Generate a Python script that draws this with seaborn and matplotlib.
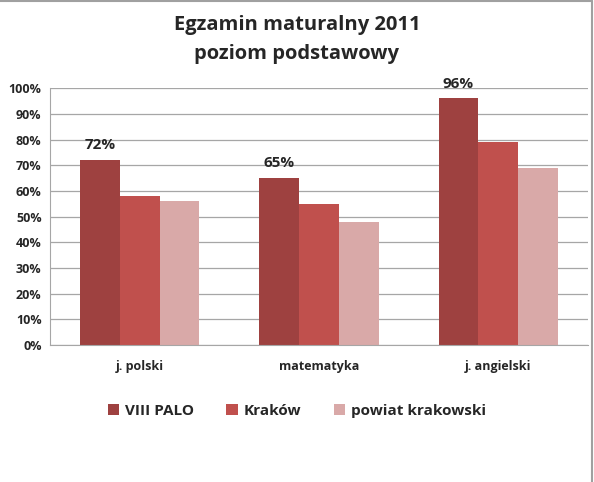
import pandas as pd
import matplotlib.pyplot as plt
import seaborn as sns
from matplotlib.patches import Patch
from matplotlib.lines import Line2D

subjects = ['j. polski', 'matematyka', 'j. angielski']
groups = ['VIII PALO', 'Kraków', 'powiat krakowski']
palo = [72, 65, 96]
krakow = [58, 55, 79]
powiat = [56, 48, 69]
colors = ['#9E4140', '#C0504D', '#D9A9A8']

df = pd.DataFrame({
    'subject': subjects * 3,
    'group': [groups[0]] * 3 + [groups[1]] * 3 + [groups[2]] * 3,
    'value': palo + krakow + powiat,
})

sns.set_style('white')
plt.rcParams['font.family'] = ['Open Sans', 'DejaVu Sans']

fig = plt.figure(figsize=(5.94, 4.82), dpi=100)
ax = fig.add_axes([0.084, 0.284, 0.906, 0.533])
sns.barplot(data=df, x='subject', y='value', hue='group', palette=colors,
            width=0.667, saturation=1, linewidth=0, edgecolor='none', ax=ax, legend=False)

ax.set_ylim(0, 100)
ax.set_yticks(range(0, 101, 10))
ax.set_yticklabels([f'{v}%' for v in range(0, 101, 10)], fontsize=9, fontweight='bold')
ax.tick_params(axis='x', labelsize=9, pad=11)
for lab in ax.get_xticklabels():
    lab.set_fontweight('bold')
ax.set_xlabel('')
ax.set_ylabel('')
ax.yaxis.grid(True, color='#A6A6A6', linewidth=0.9)
ax.set_axisbelow(True)
for s in ['top', 'right']:
    ax.spines[s].set_visible(False)
for s in ['left', 'bottom']:
    ax.spines[s].set_color('#A6A6A6')
ax.tick_params(axis='y', length=0, pad=6)
ax.tick_params(axis='x', length=0)

# value labels for VIII PALO bars
for p, v in zip(ax.containers[0], palo):
    ax.text(p.get_x() + p.get_width() / 2, v + 3, f'{v}%', ha='center', va='bottom',
            fontsize=11, fontweight='bold', clip_on=False)

fig.text(0.5, 0.968, 'Egzamin maturalny 2011\npoziom podstawowy', ha='center', va='top',
         fontsize=14.5, fontweight='bold', linespacing=1.55)

handles = [Patch(facecolor=c, edgecolor='none') for c in colors]
fig.legend(handles, groups, loc='center', bbox_to_anchor=(0.5, 0.148), ncol=3,
           frameon=False, prop={'size': 11, 'weight': 'bold'},
           handlelength=0.75, handleheight=0.75, columnspacing=2.1, handletextpad=0.4)

fig.add_artist(Line2D([0, 0.997], [0.998, 0.998], color='#A0A0A0', linewidth=1.5))
fig.add_artist(Line2D([0.997, 0.997], [0, 0.998], color='#A0A0A0', linewidth=1.5))

plt.savefig('out.png', dpi=100)
